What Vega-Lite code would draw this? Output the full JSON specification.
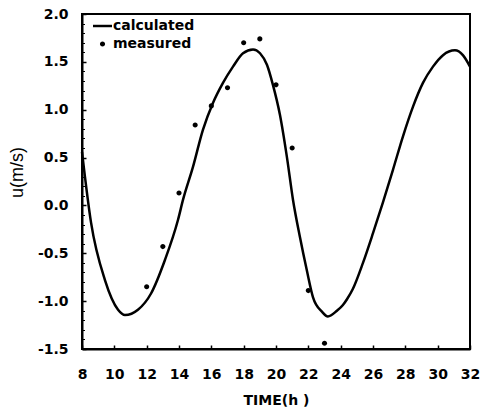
{
  "$schema": "https://vega.github.io/schema/vega-lite/v6.json",
  "width": 388,
  "height": 335,
  "autosize": "none",
  "padding": {"left": 82, "top": 14, "right": 14, "bottom": 63},
  "background": "white",
  "config": {
    "view": {"stroke": "black", "strokeWidth": 2},
    "axis": {
      "grid": false,
      "domainColor": "black",
      "domainWidth": 2,
      "tickColor": "black",
      "tickWidth": 1.5,
      "labelColor": "black",
      "titleColor": "black",
      "labelFlush": false,
      "labelOverlap": false
    },
    "axisX": {"labelOverlap": false, "labelSeparation": 0},
    "legend": {
      "labelFont": "DejaVu Sans",
      "labelFontWeight": "bold",
      "labelFontSize": 14,
      "labelColor": "black"
    }
  },
  "datasets": {
    "calc": [
      {"t": 8.0, "u": 0.56},
      {"t": 8.56, "u": -0.18},
      {"t": 9.42, "u": -0.78},
      {"t": 10.23, "u": -1.09},
      {"t": 10.66, "u": -1.145},
      {"t": 11.46, "u": -1.09},
      {"t": 12.27, "u": -0.92},
      {"t": 13.13, "u": -0.57},
      {"t": 13.94, "u": -0.15},
      {"t": 14.25, "u": 0.06},
      {"t": 14.86, "u": 0.40},
      {"t": 15.48, "u": 0.79},
      {"t": 16.10, "u": 1.07},
      {"t": 16.72, "u": 1.28},
      {"t": 17.34, "u": 1.45},
      {"t": 17.96, "u": 1.59},
      {"t": 18.58, "u": 1.63},
      {"t": 19.01, "u": 1.59},
      {"t": 19.44, "u": 1.47},
      {"t": 19.81, "u": 1.26},
      {"t": 20.24, "u": 0.95},
      {"t": 20.68, "u": 0.50},
      {"t": 21.05, "u": 0.06},
      {"t": 21.48, "u": -0.33},
      {"t": 21.91, "u": -0.68},
      {"t": 22.29, "u": -0.96},
      {"t": 22.84, "u": -1.11},
      {"t": 23.21, "u": -1.16},
      {"t": 23.77, "u": -1.10},
      {"t": 24.14, "u": -1.04},
      {"t": 24.39, "u": -0.98},
      {"t": 24.76, "u": -0.87},
      {"t": 25.38, "u": -0.60},
      {"t": 26.0, "u": -0.29},
      {"t": 26.61, "u": 0.03},
      {"t": 27.23, "u": 0.37},
      {"t": 27.85, "u": 0.72},
      {"t": 28.47, "u": 1.03},
      {"t": 29.09, "u": 1.28},
      {"t": 29.71, "u": 1.45},
      {"t": 30.33, "u": 1.57},
      {"t": 31.07, "u": 1.62},
      {"t": 31.56, "u": 1.57},
      {"t": 32.0, "u": 1.45}
    ],
    "meas": [
      {"t": 12, "u": -0.85, "series": "measured"},
      {"t": 13, "u": -0.43, "series": "measured"},
      {"t": 14, "u": 0.13, "series": "measured"},
      {"t": 15, "u": 0.84, "series": "measured"},
      {"t": 16, "u": 1.04, "series": "measured"},
      {"t": 17, "u": 1.23, "series": "measured"},
      {"t": 18, "u": 1.70, "series": "measured"},
      {"t": 19, "u": 1.74, "series": "measured"},
      {"t": 20, "u": 1.26, "series": "measured"},
      {"t": 21, "u": 0.60, "series": "measured"},
      {"t": 22, "u": -0.89, "series": "measured"},
      {"t": 23, "u": -1.44, "series": "measured"}
    ]
  },
  "encoding": {
    "x": {
      "field": "t", "type": "quantitative",
      "scale": {"domain": [8, 32], "nice": false, "zero": false},
      "axis": {
        "values": [8, 10, 12, 14, 16, 18, 20, 22, 24, 26, 28, 30, 32],
        "labelExpr": "format(datum.value, 'd')",
        "labelOverlap": false,
        "labelFlush": false,
        "labelSeparation": 0,
        "tickSize": -4,
        "labelPadding": 22,
        "labelFont": "DejaVu Sans",
        "labelFontWeight": "bold",
        "labelFontSize": 14,
        "title": "TIME(h  )",
        "titleFont": "DejaVu Sans",
        "titleFontWeight": "bold",
        "titleFontSize": 14,
        "titlePadding": 12
      }
    }
  },
  "layer": [
    {
      "data": {"name": "calc"},
      "mark": {"type": "line", "color": "black", "strokeWidth": 2.5, "interpolate": "monotone"},
      "encoding": {
        "y": {
          "field": "u", "type": "quantitative",
          "scale": {"domain": [-1.5, 2.0], "nice": false, "zero": false},
          "axis": {
            "orient": "left",
            "values": [-1.5, -1.0, -0.5, 0.0, 0.5, 1.0, 1.5, 2.0],
            "labelExpr": "replace(format(datum.value, '.1f'), '\u2212', '-')",
            "labelOverlap": false,
            "labelFlush": false,
            "tickSize": -4,
            "labelPadding": 18,
            "labelFont": "DejaVu Sans",
            "labelFontWeight": "bold",
            "labelFontSize": 14,
            "title": "u(m/s)",
            "titleFont": "Liberation Sans",
            "titleFontWeight": "normal",
            "titleFontSize": 18,
            "titlePadding": 11,
            "titleY": 158
          }
        }
      }
    },
    {
      "data": {"name": "meas"},
      "mark": {"type": "point", "filled": true, "color": "black", "opacity": 1, "size": 361},
      "encoding": {
        "y": {
          "field": "u", "type": "quantitative",
          "axis": {
            "orient": "left",
            "values": [-1.4, -1.3, -1.2, -1.1, -0.9, -0.8, -0.7, -0.6, -0.4, -0.3, -0.2, -0.1, 0.1, 0.2, 0.3, 0.4, 0.6, 0.7, 0.8, 0.9, 1.1, 1.2, 1.3, 1.4, 1.6, 1.7, 1.8, 1.9],
            "labels": false,
            "domain": false,
            "tickSize": -2.5,
            "tickWidth": 1,
            "title": null
          }
        },
        "shape": {
          "field": "series", "type": "nominal",
          "scale": {
            "domain": ["calculated", "measured"],
            "range": ["M-1,-0.13H1V0.13H-1Z", "M0.27,0A0.27,0.27 0 1,1 -0.27,0A0.27,0.27 0 1,1 0.27,0Z"]
          },
          "legend": {
            "title": null,
            "orient": "none",
            "legendX": 11,
            "legendY": 2.5,
            "padding": 0,
            "symbolSize": 361,
            "symbolFillColor": "black",
            "symbolStrokeWidth": 0,
            "symbolOpacity": 1,
            "labelOffset": 1,
            "rowPadding": 1
          }
        }
      }
    }
  ],
  "resolve": {"axis": {"y": "independent"}}
}
